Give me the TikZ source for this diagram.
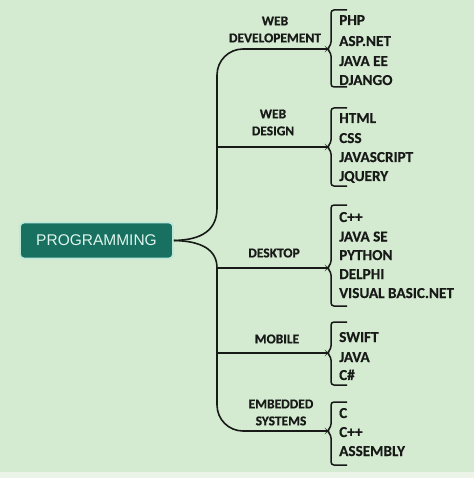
\documentclass[tikz,border=0pt]{standalone}
\usepackage{fontspec}
\setmainfont{Carlito}
\newfontfamily\arialfont{Liberation Sans}
\newfontfamily\catfont[FakeBold=0.7]{Carlito Bold}
\newfontfamily\itemfont[FakeBold=0.3]{Carlito Bold}
\definecolor{bgc}{RGB}{212,235,209}
\definecolor{stripc}{RGB}{236,244,234}
\definecolor{teal}{RGB}{24,112,96}
\definecolor{glow}{RGB}{190,232,218}
\definecolor{rootfg}{RGB}{222,244,236}
\definecolor{ink}{RGB}{24,26,24}
\tikzset{
  conn/.style={draw=ink, line width=1.6pt},
  bracebox/.style={draw=ink, line width=1.5pt, rounded corners=3pt},
  rootbox/.style={fill=teal, draw=glow, line width=1.8pt, rounded corners=4pt,
    minimum width=153pt, minimum height=36pt, inner sep=0pt,
    text=rootfg, font=\arialfont\fontsize{15.5}{18}\selectfont},
  cat/.style={align=center, inner sep=0pt, text=ink,
    font={\catfont\fontsize{13.5}{17}\selectfont}},
  item/.style={anchor=base west, inner sep=0pt, text=ink,
    font={\itemfont\fontsize{15.2}{18}\selectfont}}
}
\begin{document}
\begin{tikzpicture}[x=1pt,y=-1pt]
\fill[bgc] (0,0) rectangle (474,478);
\fill[stripc] (0,472) rectangle (474,478);
\useasboundingbox (0,0) rectangle (474,478);

% root
\node[rootbox] (root) at (96.5,240.5) {PROGRAMMING};

% trunk reference and tips
\coordinate (trunk) at (217,0);
\coordinate (jt) at (217,208);
\coordinate (jb) at (217,268);
\coordinate (tip1) at (327,49);
\coordinate (tip2) at (327,147);
\coordinate (tip3) at (327,268);
\coordinate (tip4) at (327,353);
\coordinate (tip5) at (327,431);

% connectors
\draw[conn] (root.east) .. controls (202,240) and (217,230) .. (jt);
\draw[conn] (root.east) .. controls (202,241) and (217,250) .. (jb);
\draw[conn, rounded corners=26pt] (jt) |- (tip1);
\draw[conn] (tip2 -| trunk) -- (tip2);
\draw[conn] (tip3 -| trunk) -- (tip3);
\draw[conn] (tip4 -| trunk) -- (tip4);
\draw[conn, rounded corners=26pt] (jb) |- (tip5);

% braces
\draw[bracebox] (347,10) -- (331,10) -- (331,45) -- (327,49) -- (331,53) -- (331,87) -- (347,87);
\draw[bracebox] (347,108) -- (331,108) -- (331,143) -- (327,147) -- (331,151) -- (331,186) -- (347,186);
\draw[bracebox] (347,205) -- (331,205) -- (331,264) -- (327,268) -- (331,272) -- (331,306) -- (347,306);
\draw[bracebox] (347,322) -- (331,322) -- (331,349) -- (327,353) -- (331,357) -- (331,385) -- (347,385);
\draw[bracebox] (347,402) -- (331,402) -- (331,427) -- (327,431) -- (331,435) -- (331,465) -- (347,465);

% categories
\node[cat] (c1) at (275,29.5) {WEB\\DEVELOPEMENT};
\node[cat] (c2) at (273,122.5) {WEB\\DESIGN};
\node[cat] (c3) at (274,253) {DESKTOP};
\node[cat] (c4) at (277,339) {MOBILE};
\node[cat] (c5) at (281,412.5) {EMBEDDED\\SYSTEMS};

% items
\node[item] (i11) at (339,25) {PHP};
\node[item] (i12) at (339,46) {ASP.NET};
\node[item] (i13) at (339,66) {JAVA EE};
\node[item] (i14) at (339,85) {DJANGO};

\node[item] (i21) at (339,123) {HTML};
\node[item] (i22) at (339,143) {CSS};
\node[item] (i23) at (339,162) {JAVASCRIPT};
\node[item] (i24) at (339,181) {JQUERY};

\node[item] (i31) at (339,222) {C++};
\node[item] (i32) at (339,241.5) {JAVA SE};
\node[item] (i33) at (339,260) {PYTHON};
\node[item] (i34) at (339,279) {DELPHI};
\node[item] (i35) at (339,298) {VISUAL BASIC.NET};

\node[item] (i41) at (339,342) {SWIFT};
\node[item] (i42) at (339,362) {JAVA};
\node[item] (i43) at (339,380) {C\#};

\node[item] (i51) at (339,418) {C};
\node[item] (i52) at (339,437) {C++};
\node[item] (i53) at (339,456) {ASSEMBLY};
\end{tikzpicture}
\end{document}
